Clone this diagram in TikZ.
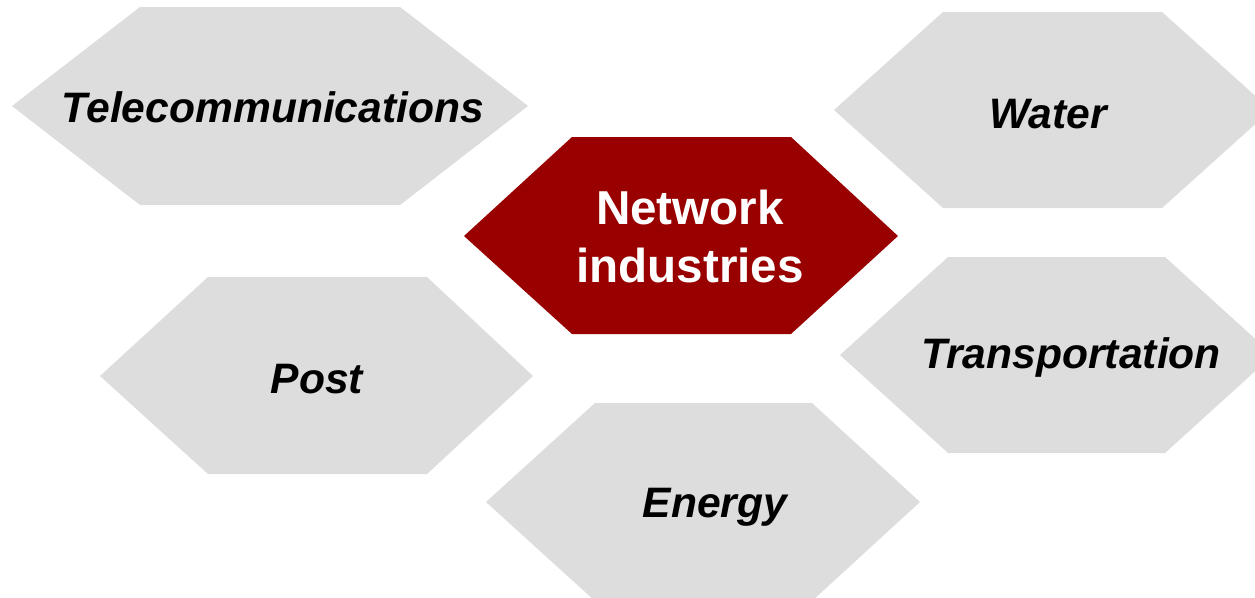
\documentclass[tikz,border=0pt]{standalone}
\usepackage{fontspec}
\setmainfont{Liberation Sans}
\definecolor{boxgray}{HTML}{DDDDDD}
\definecolor{netred}{HTML}{990000}
\tikzset{
  sector/.style={fill=boxgray},
  core/.style={fill=netred},
  sectorlabel/.style={anchor=base,inner sep=0pt,font=\fontsize{42.6}{51}\selectfont\bfseries\itshape},
  corelabel/.style={align=center,inner sep=0pt,text=white,font=\fontsize{47.6}{58}\selectfont\bfseries}
}
\begin{document}
\begin{tikzpicture}[x=1pt,y=-1pt]
\useasboundingbox (0,0) rectangle (1255,597);
\clip (0,0) rectangle (1255,597);
% outer hexagons
\fill[sector] (12,106) -- (140,7) -- (400,7) -- (528,106) -- (400,205) -- (140,205) -- cycle;
\fill[sector] (834,110) -- (943,12) -- (1162,12) -- (1271,110) -- (1162,208) -- (943,208) -- cycle;
\fill[sector] (100,376) -- (208,277) -- (427,277) -- (533,376) -- (427,474) -- (208,474) -- cycle;
\fill[sector] (840,355) -- (948,257) -- (1165,257) -- (1273,355) -- (1165,453) -- (948,453) -- cycle;
\fill[sector] (486,502) -- (595,403) -- (812,403) -- (920,502) -- (812,601) -- (595,601) -- cycle;
% centre hexagon
\fill[core] (464,236) -- (572,137) -- (791,137) -- (898,236) -- (791,334) -- (572,334) -- cycle;
\node[corelabel] (network) at (690,236) {Network\\industries};
\node[sectorlabel] (telecom) at (273,122) {Telecommunications};
\node[sectorlabel] (water) at (1048,128) {Water};
\node[sectorlabel] (post) at (317,393) {Post};
\node[sectorlabel] (transport) at (1071,368) {Transportation};
\node[sectorlabel] (energy) at (715,517) {Energy};
\end{tikzpicture}
\end{document}
